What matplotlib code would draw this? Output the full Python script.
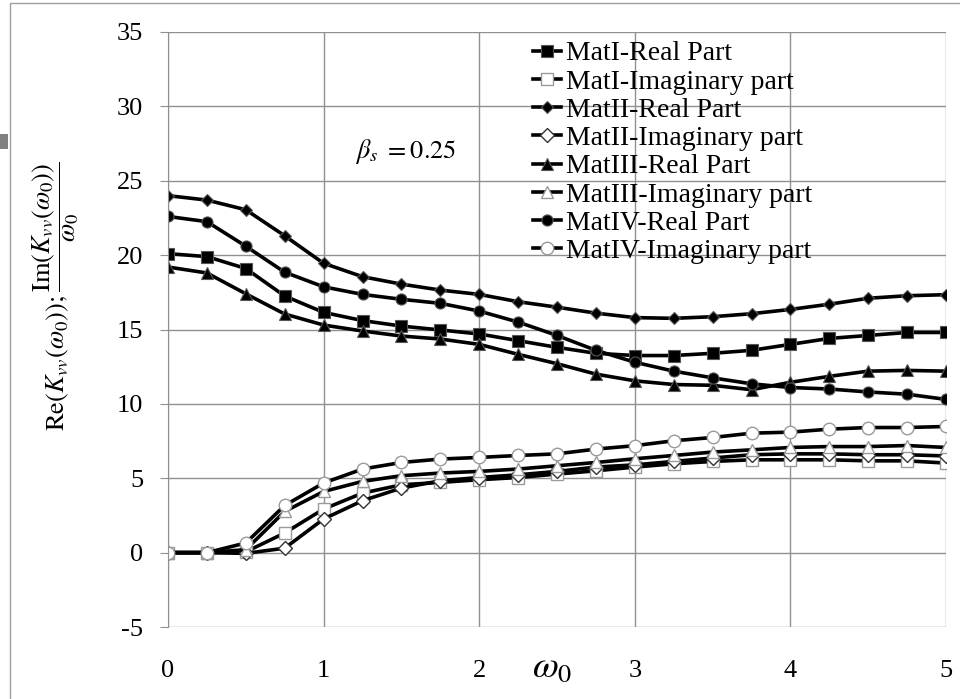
import matplotlib
matplotlib.use('Agg')
import matplotlib.pyplot as plt
from matplotlib.lines import Line2D
from matplotlib.patches import Rectangle

plt.rcParams['font.family'] = ['Liberation Serif', 'DejaVu Serif']
plt.rcParams['mathtext.fontset'] = 'stix'
plt.rcParams['axes.unicode_minus'] = False

# frequency omega_0
w0 = [0, 0.25, 0.5, 0.75, 1, 1.25, 1.5, 1.75, 2, 2.25, 2.5, 2.75,
      3, 3.25, 3.5, 3.75, 4, 4.25, 4.5, 4.75, 5]

mat1_re = [20.1, 19.9, 19.1, 17.25, 16.15, 15.6, 15.23, 14.97, 14.7, 14.25, 13.8,
           13.4, 13.25, 13.25, 13.4, 13.6, 14.0, 14.4, 14.6, 14.8, 14.8]
mat1_im = [0, 0, 0.05, 1.32, 2.93, 4.0, 4.56, 4.72, 4.9, 5.05, 5.28,
           5.5, 5.75, 5.97, 6.13, 6.24, 6.24, 6.24, 6.17, 6.17, 6.02]
mat2_re = [24.0, 23.7, 23.05, 21.3, 19.45, 18.55, 18.05, 17.65, 17.36, 16.87, 16.5,
           16.1, 15.8, 15.75, 15.86, 16.06, 16.35, 16.7, 17.1, 17.27, 17.34]
mat2_im = [0, 0, -0.05, 0.3, 2.26, 3.49, 4.34, 4.83, 5.05, 5.23, 5.46,
           5.75, 5.9, 6.13, 6.36, 6.58, 6.64, 6.64, 6.58, 6.58, 6.5]
mat3_re = [19.2, 18.8, 17.4, 16.04, 15.3, 14.9, 14.56, 14.36, 14.0, 13.33, 12.7,
           12.0, 11.55, 11.3, 11.25, 10.95, 11.45, 11.85, 12.2, 12.25, 12.2]
mat3_im = [0, 0, 0.2, 2.77, 4.11, 4.79, 5.17, 5.35, 5.46, 5.62, 5.84,
           6.06, 6.31, 6.53, 6.76, 6.91, 7.07, 7.13, 7.13, 7.2, 7.07]
mat4_re = [22.6, 22.25, 20.6, 18.85, 17.87, 17.36, 17.03, 16.76, 16.24, 15.5, 14.6,
           13.6, 12.8, 12.2, 11.75, 11.35, 11.1, 11.0, 10.8, 10.65, 10.3]
mat4_im = [0, 0, 0.65, 3.17, 4.68, 5.62, 6.06, 6.29, 6.4, 6.53, 6.64,
           6.96, 7.19, 7.52, 7.74, 8.03, 8.1, 8.3, 8.41, 8.41, 8.48]

fig = plt.figure(figsize=(9.6, 6.99), dpi=100)
ax = fig.add_axes([168/960, 1-627/699, (946-168)/960, (627-32)/699])

# outer frame (left + top edges) and small grey tab at the left
fig.add_artist(Line2D([10/960, 10/960, 1], [0, 1-3/699, 1-3/699], transform=fig.transFigure,
                      color='#a0a0a0', lw=1))
fig.patches.append(Rectangle((0, 1-149/699), 8/960, 15/699, transform=fig.transFigure,
                             facecolor='#808080', edgecolor='none'))

lw = 2.6
gray = '#9a9a9a'
ax.plot(w0, mat1_re, '-s', color='k', lw=lw, ms=8.5, mfc='k', mec='#555555', mew=0.8, label='MatI-Real Part')
ax.plot(w0, mat1_im, '-s', color='k', lw=lw, ms=8.5, mfc='white', mec=gray, mew=1, label='MatI-Imaginary part')
ax.plot(w0, mat2_re, '-D', color='k', lw=lw, ms=6.5, mfc='k', mec='#555555', mew=0.8, label='MatII-Real Part')
ax.plot(w0, mat2_im, '-D', color='k', lw=lw, ms=7, mfc='white', mec='#333333', mew=1, label='MatII-Imaginary part')
ax.plot(w0, mat3_re, '-^', color='k', lw=lw, ms=8, mfc='k', mec='#555555', mew=0.8, label='MatIII-Real Part')
ax.plot(w0, mat3_im, '-^', color='k', lw=lw, ms=8.5, mfc='white', mec=gray, mew=1, label='MatIII-Imaginary part')
ax.plot(w0, mat4_re, '-o', color='k', lw=lw, ms=8, mfc='k', mec='#555555', mew=0.8, label='MatIV-Real Part')
ax.plot(w0, mat4_im, '-o', color='k', lw=lw, ms=9, mfc='white', mec=gray, mew=1, label='MatIV-Imaginary part')

ax.set_xlim(0, 5)
ax.set_ylim(-5, 35)
ax.set_yticks(range(-5, 36, 5))
ax.set_xticks(range(0, 6))
ax.grid(True, color='#909090', lw=1)
ax.set_axisbelow(True)
for s in ['top', 'right', 'bottom']:
    ax.spines[s].set_visible(False)
ax.spines['left'].set_color('#909090')
ax.tick_params(axis='y', length=6, color='#909090', pad=12, labelsize=19)
ax.tick_params(axis='x', length=0, pad=24, labelsize=19)

fig.text(56/960, 1-296/699,
         r'$\mathrm{Re}(K_{vv}(\omega_0));\dfrac{\mathrm{Im}(K_{vv}(\omega_0))}{\omega_0}$',
         rotation=90, ha='center', va='center', fontsize=19)
fig.text(552/960, 1-668/699, r'$\omega_0$', ha='center', va='center', fontsize=27)
ax.text(1.2, 27.0, r'$\beta_s\ = 0.25$', ha='left', va='center', fontsize=19)

leg = ax.legend(loc='upper left', bbox_to_anchor=(533/960, 1-41/699), bbox_transform=fig.transFigure,
                frameon=False, fontsize=20, handlelength=1.0, handletextpad=0.2,
                labelspacing=0.1, borderpad=0, borderaxespad=0)

fig.savefig('out.png', dpi=100)
